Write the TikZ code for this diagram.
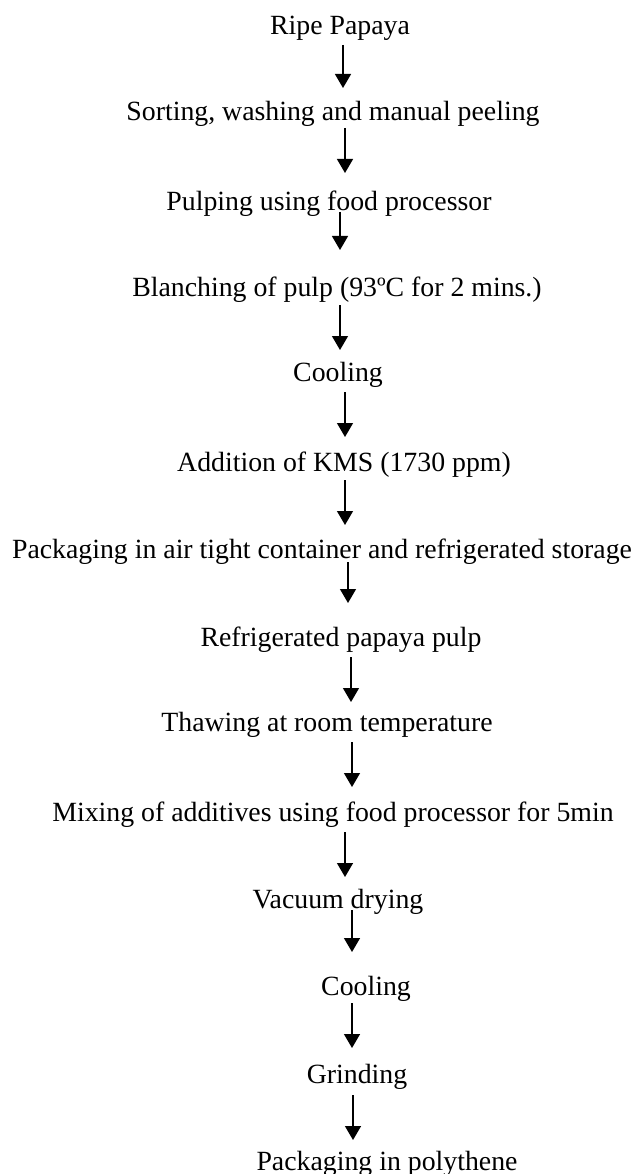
\documentclass[tikz,border=0pt]{standalone}
\usepackage{fontspec}
\setmainfont{Liberation Serif}
\usetikzlibrary{arrows.meta}
\tikzset{
  steptext/.style={inner sep=0pt, anchor=base, font=\fontsize{27.8}{33}\selectfont},
  flowarrow/.style={line width=1.4pt, -{Triangle[width=16pt,length=14pt]}}
}
\begin{document}
\begin{tikzpicture}[x=1pt,y=-1pt]
\useasboundingbox (0,0) rectangle (635,1174);
\node[steptext] (n1) at (340,35) {Ripe Papaya};
\node[steptext] (n2) at (333,121) {Sorting, washing and manual peeling};
\node[steptext] (n3) at (329,211) {Pulping using food processor};
\node[steptext] (n4) at (337,296) {Blanching of pulp (93ºC for 2 mins.)};
\node[steptext] (n5) at (338,381) {Cooling};
\node[steptext] (n6) at (344,471) {Addition of KMS (1730 ppm)};
\node[steptext] (n7) at (322,558) {Packaging in air tight container and refrigerated storage};
\node[steptext] (n8) at (341,646) {Refrigerated papaya pulp};
\node[steptext] (n9) at (327,731) {Thawing at room temperature};
\node[steptext] (n10) at (333,821) {Mixing of additives using food processor for 5min};
\node[steptext] (n11) at (338,908) {Vacuum drying};
\node[steptext] (n12) at (366,995) {Cooling};
\node[steptext] (n13) at (357,1083) {Grinding};
\node[steptext] (n14) at (387,1170) {Packaging in polythene};
\coordinate (a1s) at (343,45);   \coordinate (a1e) at (343,88);
\coordinate (a2s) at (345,128);  \coordinate (a2e) at (345,173);
\coordinate (a3s) at (340,212);  \coordinate (a3e) at (340,250);
\coordinate (a4s) at (340,305);  \coordinate (a4e) at (340,350);
\coordinate (a5s) at (345,392);  \coordinate (a5e) at (345,437);
\coordinate (a6s) at (345,480);  \coordinate (a6e) at (345,525);
\coordinate (a7s) at (348,562);  \coordinate (a7e) at (348,603);
\coordinate (a8s) at (351,657);  \coordinate (a8e) at (351,702);
\coordinate (a9s) at (352,742);  \coordinate (a9e) at (352,787);
\coordinate (a10s) at (345,832); \coordinate (a10e) at (345,877);
\coordinate (a11s) at (352,910); \coordinate (a11e) at (352,952);
\coordinate (a12s) at (352,1003); \coordinate (a12e) at (352,1048);
\coordinate (a13s) at (353,1095); \coordinate (a13e) at (353,1140);
\foreach \i in {1,...,13} {\draw[flowarrow] (a\i s) -- (a\i e);}
\end{tikzpicture}
\end{document}
